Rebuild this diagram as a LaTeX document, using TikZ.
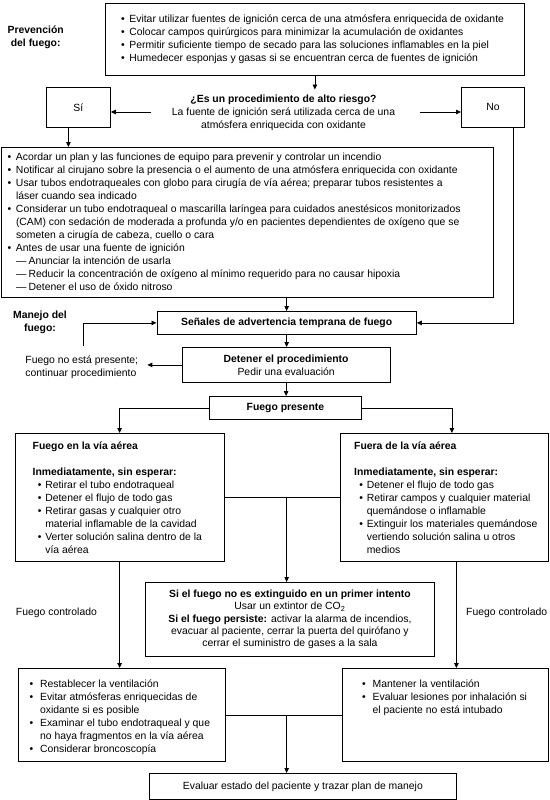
\documentclass[tikz,border=0pt]{standalone}
\usepackage{fontspec}
\setmainfont{Liberation Sans}
\usetikzlibrary{arrows.meta}
\newcommand\fs{\fontsize{10.4}{13}\selectfont}
\newcommand\bul[1][8.4pt]{\makebox[#1][l]{\textbullet}}
\newcommand\cnt[1][8.4pt]{\hspace*{#1}}
\newcommand\dsh{\makebox[12.6pt][l]{—}}
\begin{document}
\begin{tikzpicture}[x=1pt,y=-1pt,
  box/.style={draw, line width=0.8pt, inner sep=0pt, anchor=north west, font=\fs, align=center},
  txt/.style={inner sep=0pt, anchor=north west, align=left, font=\fs},
  ctxt/.style={inner sep=0pt, anchor=north, align=center, font=\fs},
  arr/.style={line width=0.8pt, -{Triangle[length=5pt,width=4.5pt]}},
  ln/.style={line width=0.8pt}]
\useasboundingbox (0,0) rectangle (549,800);
\fill[white] (0,0) rectangle (549,800);

% --- prevention
\node[ctxt, font=\fs\bfseries] (prevlab) at (35.7,24.5) {\strut Prevención\\del fuego:};
\node[box, minimum width=419pt, minimum height=72pt] (prev) at (105,3) {};
\node[txt] (prevtxt) at (120.8,13.5) {\strut\bul Evitar utilizar fuentes de ignición cerca de una atmósfera enriquecida de oxidante\\
\bul Colocar campos quirúrgicos para minimizar la acumulación de oxidantes\\
\bul Permitir suficiente tiempo de secado para las soluciones inflamables en la piel\\
\bul Humedecer esponjas y gasas si se encuentran cerca de fuentes de ignición};

\node[ctxt] (q) at (283.5,93.5) {\strut\textbf{¿Es un procedimiento de alto riesgo?}\\La fuente de ignición será utilizada cerca de una\\atmósfera enriquecida con oxidante};
\coordinate (qL) at (151,112);
\coordinate (qR) at (420,112);
\node[box, minimum width=64pt, minimum height=40pt] (si) at (46,87) {Sí};
\node[box, minimum width=63pt, minimum height=40pt] (no) at (461,87) {No};

\node[box, minimum width=491.5pt, minimum height=150pt] (main) at (1,147) {};
\node[txt] (maintxt) at (7.4,151.5) {\strut\bul Acordar un plan y las funciones de equipo para prevenir y controlar un incendio\\
\bul Notificar al cirujano sobre la presencia o el aumento de una atmósfera enriquecida con oxidante\\
\bul Usar tubos endotraqueales con globo para cirugía de vía aérea; preparar tubos resistentes a\\
\cnt láser cuando sea indicado\\
\bul Considerar un tubo endotraqueal o mascarilla laríngea para cuidados anestésicos monitorizados\\
\cnt (CAM) con sedación de moderada a profunda y/o en pacientes dependientes de oxígeno que se\\
\cnt someten a cirugía de cabeza, cuello o cara\\
\bul Antes de usar una fuente de ignición\\
\cnt\dsh Anunciar la intención de usarla\\
\cnt\dsh Reducir la concentración de oxígeno al mínimo requerido para no causar hipoxia\\
\cnt\dsh Detener el uso de óxido nitroso};

% --- management
\node[ctxt, font=\fs\bfseries] (manejo) at (40,309.5) {\strut Manejo del\\fuego:};
\node[box, minimum width=259.5pt, minimum height=23pt, font=\fs\bfseries] (senales) at (156.5,311) {Señales de advertencia temprana de fuego};
\node[txt] (fnp) at (25.2,354.5) {\strut Fuego no está presente;\\continuar procedimiento};
\coordinate (loopc) at (83,346);
\node[box, minimum width=208pt, minimum height=35pt] (detener) at (181.7,347) {\textbf{Detener el procedimiento}\\Pedir una evaluación};
\node[box, minimum width=152pt, minimum height=23pt, font=\fs\bfseries] (fp) at (209,396) {Fuego presente};

\node[box, minimum width=209pt, minimum height=128pt] (fa) at (14.7,433) {};
\node[txt] (fatxt) at (32.5,440.5) {\strut\textbf{Fuego en la vía aérea}\\[13pt]
\textbf{Inmediatamente, sin esperar:}\\
\cnt[5.25pt]\bul[7.35pt]Retirar el tubo endotraqueal\\
\cnt[5.25pt]\bul[7.35pt]Detener el flujo de todo gas\\
\cnt[5.25pt]\bul[7.35pt]Retirar gasas y cualquier otro\\
\cnt[12.6pt]material inflamable de la cavidad\\
\cnt[5.25pt]\bul[7.35pt]Verter solución salina dentro de la\\
\cnt[12.6pt]vía aérea};

\node[box, minimum width=208pt, minimum height=128pt] (fb) at (340,433) {};
\node[txt] (fbtxt) at (354,440.5) {\strut\textbf{Fuera de la vía aérea}\\[13pt]
\textbf{Inmediatamente, sin esperar:}\\
\cnt[5.25pt]\bul[7.35pt]Detener el flujo de todo gas\\
\cnt[5.25pt]\bul[7.35pt]Retirar campos y cualquier material\\
\cnt[12.6pt]quemándose o inflamable\\
\cnt[5.25pt]\bul[7.35pt]Extinguir los materiales quemándose\\
\cnt[12.6pt]vertiendo solución salina u otros\\
\cnt[12.6pt]medios};

\node[box, minimum width=289pt, minimum height=74pt, font=\fontsize{10.4}{12.3}\selectfont] (mid) at (145,582) {\textbf{Si el fuego no es extinguido en un primer intento}\\
Usar un extintor de CO\textsubscript{2}\\
\textbf{Si el fuego persiste:} activar la alarma de incendios,\\
evacuar al paciente, cerrar la puerta del quirófano y\\
cerrar el suministro de gases a la sala};

\node[txt, anchor=west] (fcl) at (15.75,613) {Fuego controlado};
\node[txt, anchor=west] (fcr) at (466,613) {Fuego controlado};

\node[box, minimum width=207pt, minimum height=93pt] (la) at (17.9,668) {};
\node[txt] (latxt) at (29.4,678.5) {\strut\bul[10.5pt]Restablecer la ventilación\\
\bul[10.5pt]Evitar atmósferas enriquecidas de\\
\cnt[10.5pt]oxidante si es posible\\
\bul[10.5pt]Examinar el tubo endotraqueal y que\\
\cnt[10.5pt]no haya fragmentos en la vía aérea\\
\bul[10.5pt]Considerar broncoscopía};

\node[box, minimum width=206pt, minimum height=93pt] (lb) at (342,668) {};
\node[txt] (lbtxt) at (362,678.5) {\strut\bul[10.5pt]Mantener la ventilación\\
\bul[10.5pt]Evaluar lesiones por inhalación si\\
\cnt[10.5pt]el paciente no está intubado};

\node[box, minimum width=307pt, minimum height=26pt] (bot) at (149,773) {Evaluar estado del paciente y trazar plan de manejo};

% --- connectors
\draw[arr, shorten >=4pt] (prev.south) -- (prev.south |- q.north);
\draw[arr] (qL) -- (qL -| si.east);
\draw[arr] (qR) -- (qR -| no.west);
\draw[arr] ([xshift=-10pt]si.south) -- ([xshift=-10pt]si.south |- main.north);
\draw[arr] ([xshift=20.5pt]no.south) |- (senales.east);
\draw[arr] (senales.north |- main.south) -- (senales.north);
\draw[arr] (loopc) |- (senales.west);
\draw[arr, shorten >=9pt] (detener.west) -- (detener.west -| fnp.east);
\draw[arr] (senales.south) -- (senales.south |- detener.north);
\draw[arr] (detener.south) -- (detener.south |- fp.north);
\draw[arr] (fp.west) -| (fa.north);
\draw[arr] (fp.east) -| ([xshift=7.5pt]fb.north);
\draw[ln] (fa.east) -- (fb.west);
\draw[arr] (senales.south |- fa.east) -- (senales.south |- mid.north);
\draw[arr] (fa.south) -- (fa.south |- la.north);
\draw[arr] ([xshift=12pt]fb.south) -- ([xshift=12pt]fb.south |- lb.north);
\draw[ln] (la.east) -- (lb.west);
\draw[arr] (senales.south |- la.east) -- (senales.south |- bot.north);
\end{tikzpicture}
\end{document}
